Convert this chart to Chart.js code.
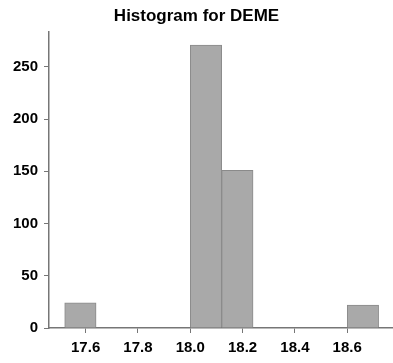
<!DOCTYPE html>
<html lang="en">
<head>
    <meta charset="UTF-8">
    <title>Histogram for DEME</title>
    <script src="https://cdn.jsdelivr.net/npm/chart.js"></script>
    <style>
        html, body { margin: 0; padding: 0; background: #fff; }
        #wrap { width: 393px; height: 363px; }
    </style>
</head>
<body>
    <div id="wrap">
        <canvas id="histChart"></canvas>
    </div>
<script>
// histogram bins (centres, width 0.12) and counts
var binCenters = [17.58, 17.70, 17.82, 17.94, 18.06, 18.18, 18.30, 18.42, 18.54, 18.66];
var counts = [24, 0, 0, 0, 271, 151, 0, 0, 0, 22];
var xTicks = [17.6, 17.8, 18.0, 18.2, 18.4, 18.6];
var yTicks = [0, 50, 100, 150, 200, 250];

var points = binCenters.map(function (c, i) { return { x: c, y: counts[i] }; });

var axisColor = '#767676';
var tickFont = { family: 'Liberation Sans, Arial, sans-serif', size: 15, weight: 'bold' };

var ctx = document.getElementById('histChart').getContext('2d');
var histChart = new Chart(ctx, {
    type: 'bar',
    data: {
        datasets: [{
            data: points,
            backgroundColor: '#a9a9a9',
            borderColor: '#8a8a8a',
            borderWidth: 1,
            categoryPercentage: 1,
            barPercentage: 1
        }]
    },
    options: {
        responsive: true,
        maintainAspectRatio: false,
        animation: false,
        layout: { padding: { left: 0, right: 0, top: 0, bottom: 0 } },
        plugins: {
            legend: { display: false },
            tooltip: { enabled: false },
            title: {
                display: true,
                text: 'Histogram for DEME',
                color: '#000',
                font: { family: 'Liberation Sans, Arial, sans-serif', size: 17, weight: 'bold' },
                padding: { top: 6, bottom: 5 }
            }
        },
        scales: {
            x: {
                type: 'linear',
                min: 17.46,
                max: 18.775,
                offset: false,
                grid: { offset: false, drawOnChartArea: false, drawTicks: true, tickLength: 5, color: axisColor },
                border: { display: true, color: axisColor, width: 1.5 },
                afterBuildTicks: function (scale) {
                    scale.ticks = xTicks.map(function (v) { return { value: v }; });
                },
                ticks: {
                    color: '#000',
                    font: tickFont,
                    padding: 6,
                    maxRotation: 0,
                    callback: function (v) { return Number(v).toFixed(1); }
                },
                afterFit: function (scale) { scale.height = 35; }
            },
            y: {
                min: 0,
                max: 284,
                grid: { drawOnChartArea: false, drawTicks: true, tickLength: 5, color: axisColor },
                border: { display: true, color: axisColor, width: 1.5 },
                afterBuildTicks: function (scale) {
                    scale.ticks = yTicks.map(function (v) { return { value: v }; });
                },
                ticks: { color: '#000', font: tickFont, padding: 6 },
                afterFit: function (scale) { scale.width = 49; }
            }
        }
    }
});
</script>
</body>
</html>
